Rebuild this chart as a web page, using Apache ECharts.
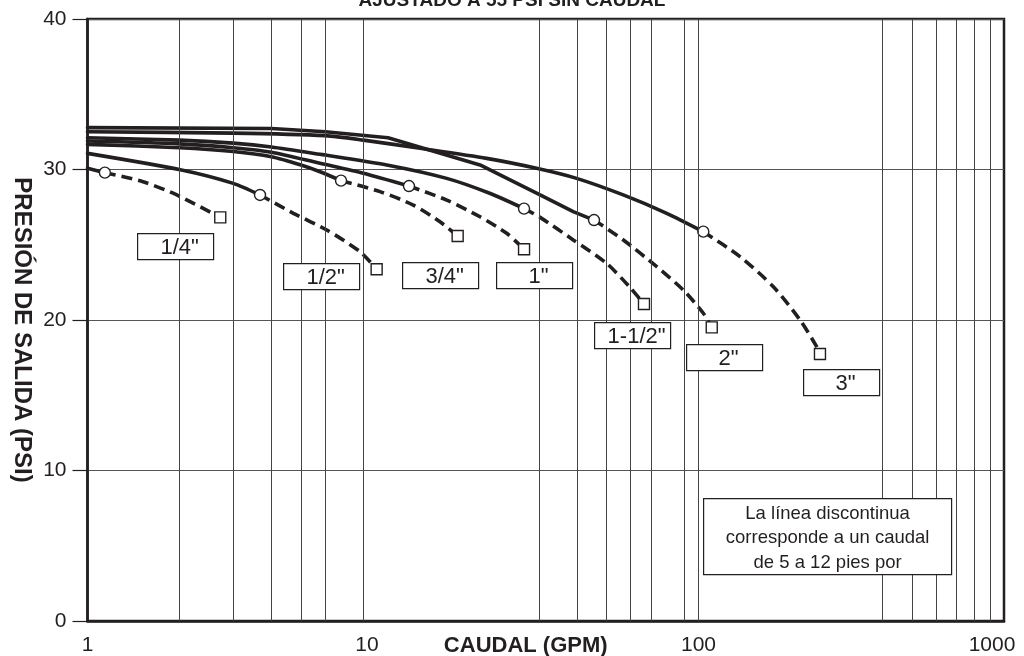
<!DOCTYPE html>
<html><head><meta charset="utf-8">
<script src="https://cdn.jsdelivr.net/npm/echarts@6/dist/echarts.min.js"></script>
<style>html,body{margin:0;padding:0;background:#fff}#c{width:1024px;height:656px}</style>
</head><body><div id="c"></div>
<script>
// ---- data ----
const titleText = 'AJUSTADO A 55 PSI SIN CAUDAL';
const xName = 'CAUDAL (GPM)';
const yName = 'PRESIÓN DE SALIDA (PSI)';
const xTickLabels = [1, 10, 100, 1000];
const yTickValues = [0, 10, 20, 30, 40];
const gridFlows = [2, 3, 4, 5, 6, 8, 30, 40, 50, 60, 70, 90, 100, 400, 500, 600, 700, 800, 900];
const pipeSizes = ['1/4"', '1/2"', '3/4"', '1"', '1-1/2"', '2"', '3"'];
const noteLines = ['La línea discontinua', 'corresponde a un caudal', 'de 5 a 12 pies por'];

// [flow GPM, pressure PSI]
const solid14  = [[1, 30.08], [1.14, 29.79]];
const dashed14 = [[1.14, 29.79], [1.52, 29.19], [1.96, 28.31], [2.72, 26.82]];
const solid12  = [[1, 31.07], [2.03, 29.97], [3.0, 29.08], [3.67, 28.31]];
const dashed12 = [[3.67, 28.31], [4.72, 27.09], [6.07, 25.98], [7.8, 24.54], [8.84, 23.37]];
const solid34  = [[1, 31.67], [2, 31.45], [3, 31.2], [4, 30.85], [5, 30.3], [5.77, 29.85], [6.76, 29.26]];
const dashed34 = [[6.76, 29.26], [9.07, 28.53], [11.65, 27.64], [14.25, 26.53], [16.28, 25.58]];
const solid1   = [[1, 31.89], [2, 31.7], [3, 31.45], [4, 31.15], [5.77, 30.41], [8, 29.75], [11.28, 28.9]];
const dashed1  = [[11.28, 28.9], [14.99, 27.97], [19.27, 26.86], [23.56, 25.76], [26.85, 24.7]];
const solid112  = [[1, 32.11], [2, 31.95], [3, 31.75], [4, 31.5], [5.77, 31.01], [9.54, 30.3], [14.99, 29.41], [20.72, 28.42], [26.85, 27.4]];
const dashed112 = [[26.85, 27.4], [30.3, 26.82], [38.9, 25.32], [50, 23.77], [59.4, 22.21], [66.3, 21.06]];
const solid2   = [[1, 32.78], [4, 32.72], [6, 32.51], [9.63, 32.11], [19.27, 30.3], [30.3, 28.31], [38.9, 27.2], [45.5, 26.64]];
const dashed2  = [[45.5, 26.64], [56.75, 25.32], [73, 23.54], [89.2, 21.99], [103.7, 20.45], [110.5, 19.51]];
const solid3   = [[1, 32.51], [3, 32.42], [6, 32.25], [8, 31.95], [12.26, 31.41], [20.26, 30.74], [29.5, 30.08], [39.9, 29.41], [56.7, 28.31], [78.7, 27.09], [103.7, 25.87]];
const dashed3  = [[103.7, 25.87], [136.7, 24.21], [175.8, 22.21], [214.9, 20.0], [243.7, 18.23], [249.8, 17.74]];

// ---- styling / layout ----
const INK = '#231f20';
const FONT = '"Liberation Sans", Arial, Helvetica, sans-serif';
const solids = [solid14, solid12, solid34, solid1, solid112, solid2, solid3];
const dasheds = [dashed14, dashed12, dashed34, dashed1, dashed112, dashed2, dashed3];
const labelBoxes = [[137, 233], [283, 263], [402, 262], [496, 262], [594, 322], [686, 344], [803, 369]];
// horizontal nudges of tick labels (px, as placed in the reference)
const tickLabelPad = { 10: 52, 1000: 24 };

const series = [{
  type: 'line', data: [], silent: true, z: 1,
  markLine: {
    silent: true, animation: false, symbol: ['none', 'none'],
    label: { show: false },
    lineStyle: { color: '#444', width: 1, type: 'solid' },
    emphasis: { disabled: true },
    data: gridFlows.map(v => ({ xAxis: v }))
  }
}];
solids.forEach((d, i) => {
  series.push({
    type: 'line', data: d, z: 3, silent: true,
    smooth: i === 5 ? false : 0.25,
    showSymbol: false,
    lineStyle: { color: INK, width: 3.6, cap: 'round', join: 'round' },
    emphasis: { disabled: true }
  });
});
dasheds.forEach((d) => {
  const n = d.length;
  series.push({
    type: 'line', data: d, z: 4, silent: true,
    smooth: 0.25,
    showSymbol: true,
    symbol: (v, p) => p.dataIndex === 0 ? 'circle' : (p.dataIndex === n - 1 ? 'rect' : 'none'),
    symbolSize: 11,
    itemStyle: { color: '#fff', borderColor: INK, borderWidth: 1.4 },
    lineStyle: { color: INK, width: 3.6, type: [11, 6] },
    emphasis: { disabled: true }
  });
});

const graphics = [];
pipeSizes.forEach((t, i) => {
  const [x, y] = labelBoxes[i];
  graphics.push({
    type: 'group', left: x, top: y, z: 100,
    children: [
      { type: 'rect', z: 100, shape: { x: 0, y: 0, width: 76, height: 26 }, style: { fill: '#fff', stroke: INK, lineWidth: 1.2 } },
      { type: 'text', z: 101, x: 42, y: 14, style: { text: t, font: '22px ' + FONT, fill: INK, align: 'center', verticalAlign: 'middle' } }
    ]
  });
});
graphics.push({
  type: 'group', left: 703, top: 498, z: 100,
  children: [
    { type: 'rect', z: 100, shape: { x: 0, y: 0, width: 248, height: 76 }, style: { fill: '#fff', stroke: INK, lineWidth: 1.2 } },
    ...noteLines.map((t, k) => ({ type: 'text', z: 101, x: 124, y: 15 + k * 24.5, style: { text: t, font: '18.5px ' + FONT, fill: INK, align: 'center', verticalAlign: 'middle' } }))
  ]
});

const rich = {};
Object.keys(tickLabelPad).forEach(k => { rich['p' + k] = { padding: [0, tickLabelPad[k], 0, 0], fontSize: 21, color: INK, fontFamily: FONT }; });

const chart = echarts.init(document.getElementById('c'), null, { renderer: 'canvas' });
chart.setOption({
  animation: false,
  backgroundColor: '#fff',
  textStyle: { fontFamily: FONT },
  title: {
    text: titleText, left: 'center', top: -9, padding: 0,
    textStyle: { fontSize: 19, fontWeight: 'bold', color: INK, fontFamily: FONT }
  },
  grid: {
    left: 87.5, right: 20, top: 19, bottom: 35,
    show: true, borderColor: INK, borderWidth: 2.5, backgroundColor: 'transparent',
    containLabel: false, outerBoundsMode: 'none'
  },
  xAxis: {
    type: 'log', logBase: 10, min: 1, max: 1000,
    axisLine: { show: true, lineStyle: { color: INK, width: 2.5 } },
    axisTick: { show: false },
    minorTick: { show: false },
    splitLine: { show: false },
    axisLabel: {
      color: INK, fontSize: 21, margin: 14, fontFamily: FONT, rich: rich,
      formatter: v => {
        const r = Math.round(v);
        if (!xTickLabels.includes(r)) return '';
        return tickLabelPad[r] ? '{p' + r + '|' + r + '}' : String(r);
      }
    },
    name: xName, nameLocation: 'middle', nameGap: 14, nameMoveOverlap: false,
    nameTextStyle: { color: INK, fontSize: 22, fontWeight: 'bold', fontFamily: FONT, padding: [0, 40, 0, 0] }
  },
  yAxis: {
    type: 'value', min: yTickValues[0], max: yTickValues[yTickValues.length - 1], interval: 10,
    axisLine: { show: true, lineStyle: { color: INK, width: 2.5 } },
    axisTick: { show: true, length: 15, lineStyle: { color: INK, width: 1.2 } },
    splitLine: { show: true, lineStyle: { color: '#555', width: 1.2 } },
    axisLabel: { color: INK, fontSize: 21, margin: 21, fontFamily: FONT },
    name: yName, nameLocation: 'middle', nameRotate: -90, nameGap: 54, nameMoveOverlap: false,
    nameTextStyle: { color: INK, fontSize: 24, fontWeight: 'bold', fontFamily: FONT, padding: [0, 0, 0, 20] }
  },
  series: series,
  graphic: graphics
});
</script>
</body></html>
